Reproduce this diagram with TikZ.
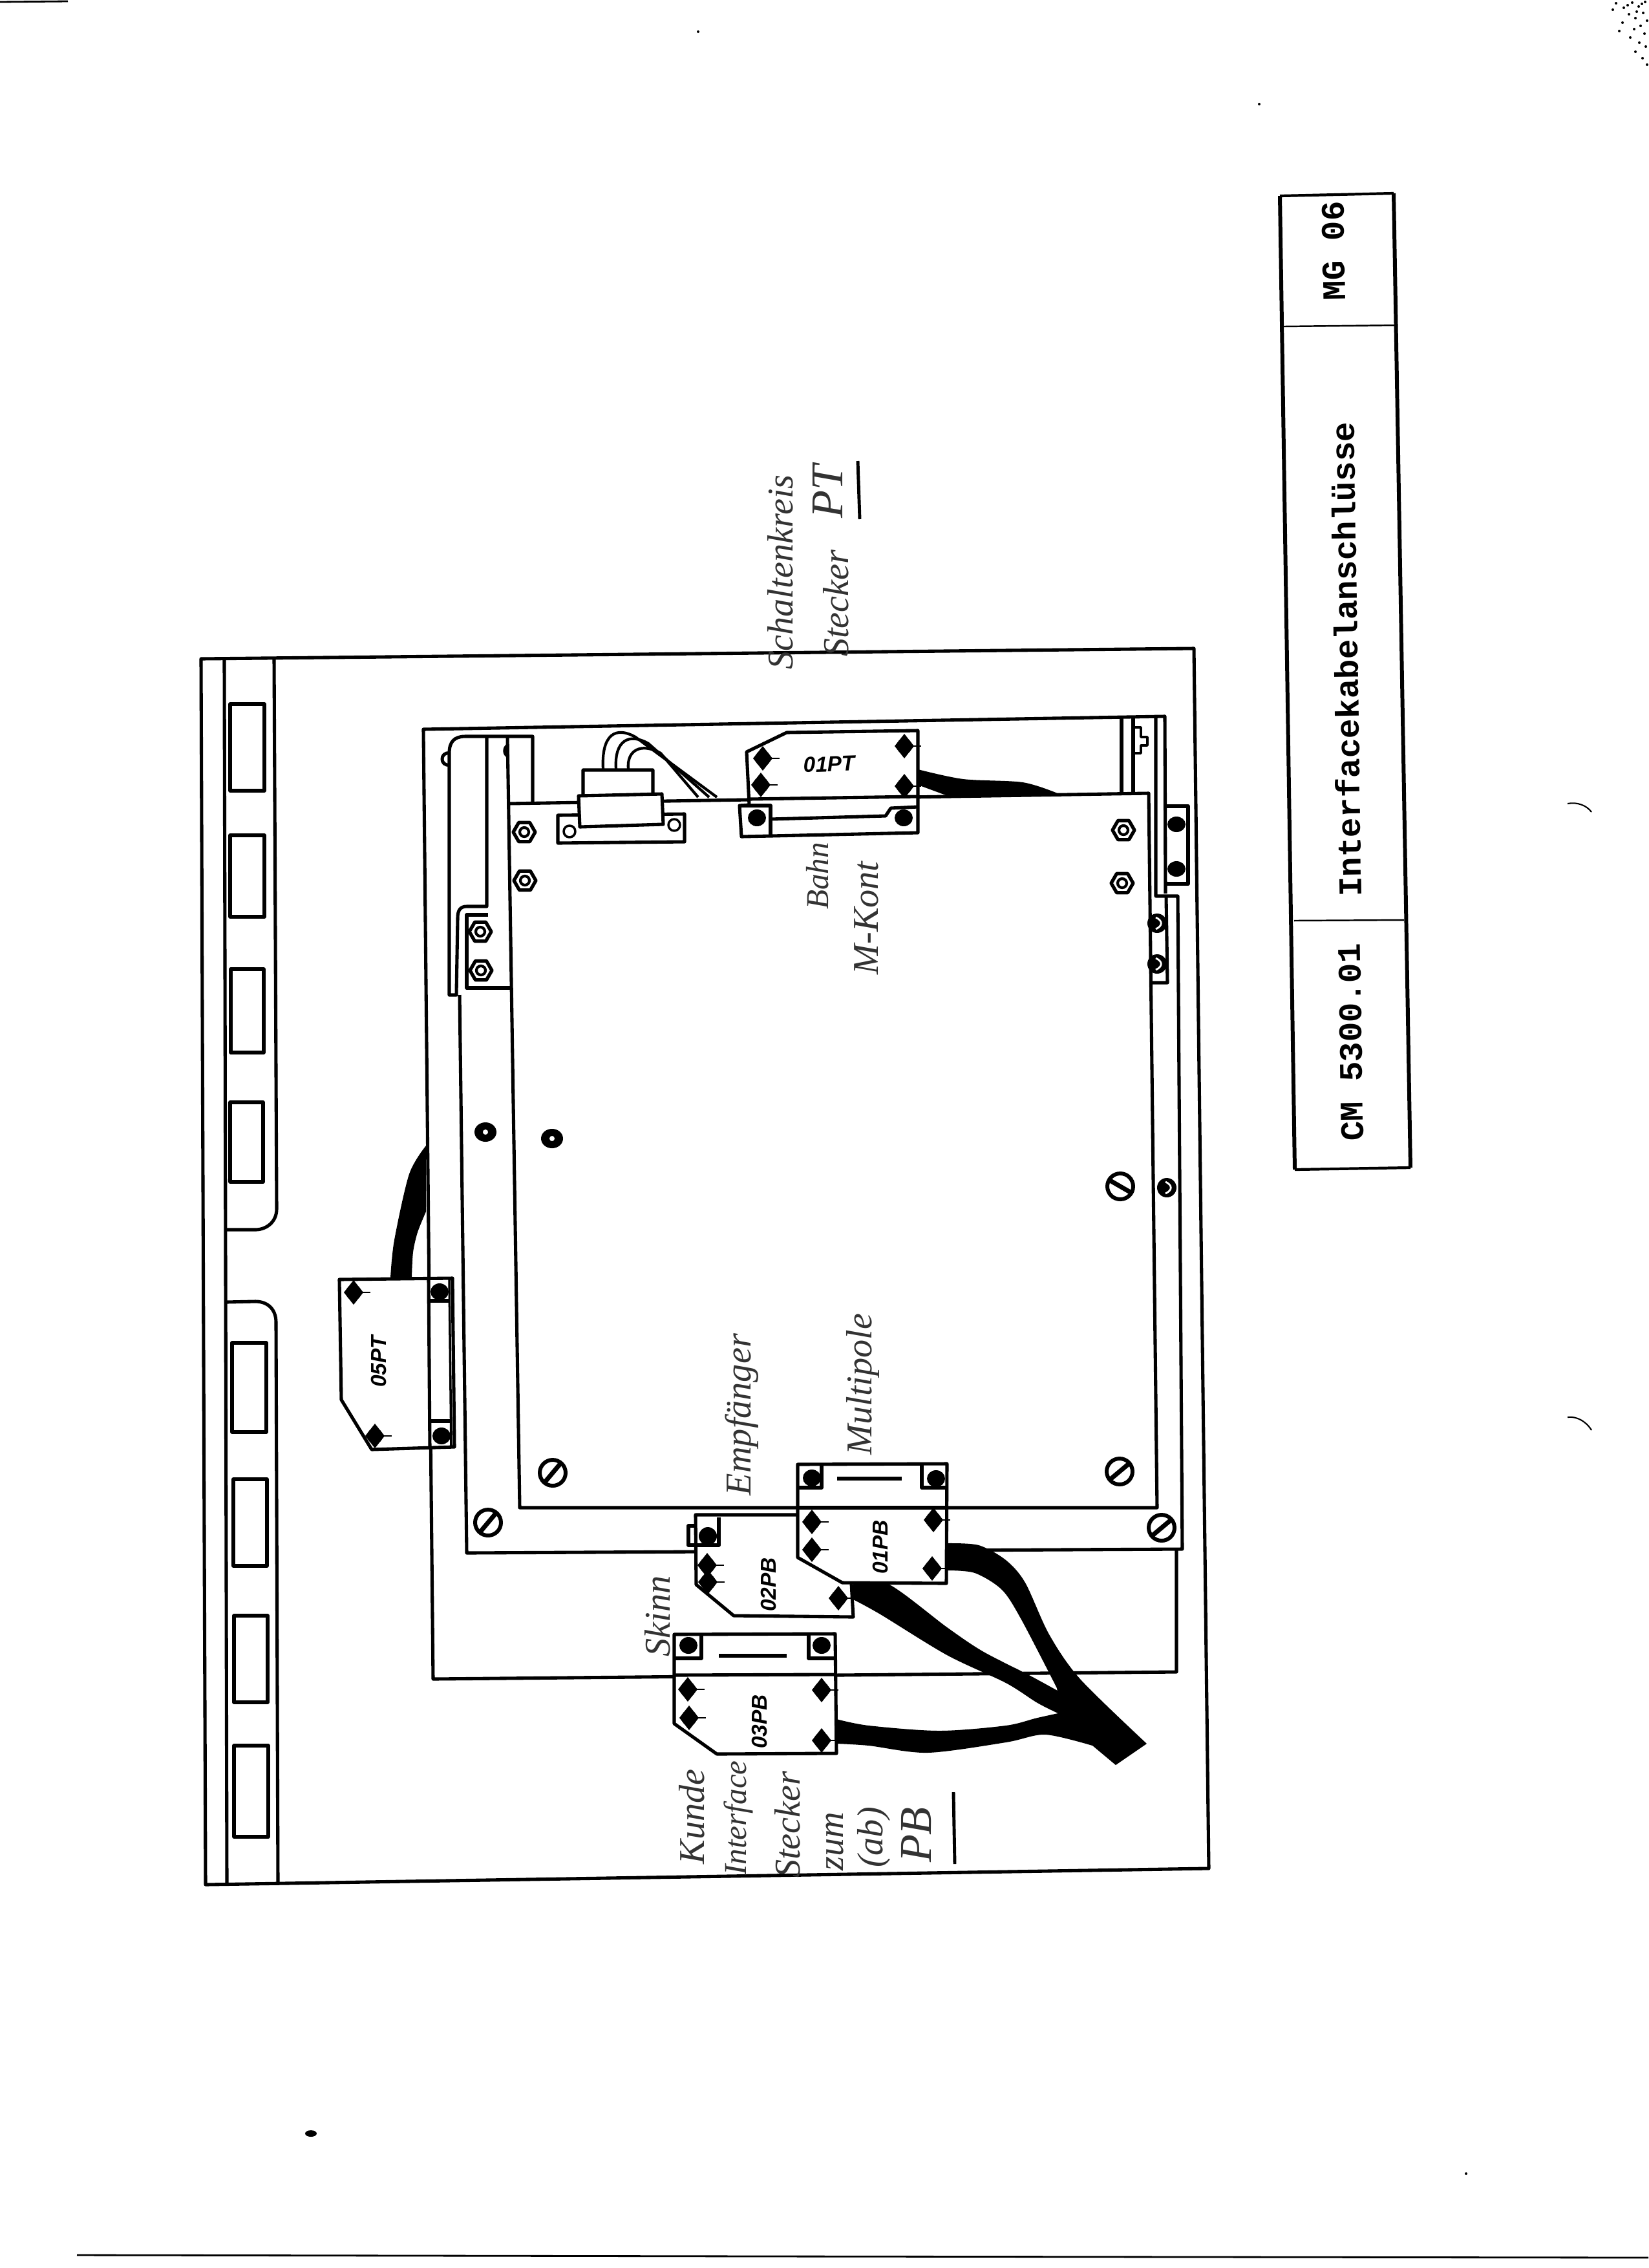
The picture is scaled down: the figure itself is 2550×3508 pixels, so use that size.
\documentclass[tikz,border=0pt]{standalone}
\usepackage{fontspec}
\setmainfont{Liberation Serif}
\setsansfont{Liberation Sans}
\setmonofont{Liberation Mono}

\tikzset{
  titletext/.style={font=\ttfamily\bfseries\fontsize{14.5}{17}\selectfont, rotate=90.9},
  tag/.style={font=\sffamily\bfseries\itshape\fontsize{9.5}{11}\selectfont, rotate=90},
  hand/.style={font=\itshape\fontsize{16}{19}\selectfont, rotate=90, text=black!80},
  handsmall/.style={font=\itshape\fontsize{14}{16}\selectfont, rotate=90, text=black!80},
  handbig/.style={font=\itshape\fontsize{20}{22}\selectfont, rotate=90, text=black!80},
  wire/.style={line width=1.2pt},
  fineline/.style={line width=0.6pt}
}

\newcommand{\bolt}[2]{
  \fill (#1,#2) +(-15,0) -- +(0,-19) -- +(15,0) -- +(0,19) -- cycle;
  \fill (#1,#2) circle (12);
  \draw[fineline] (#1,#2) -- +(26,0);
}
\newcommand{\blob}[2]{\fill (#1,#2) ellipse (14 and 13);}
\newcommand{\nut}[2]{
  \draw[line width=1.5pt] (#1,#2) +(0:17) -- +(60:17) -- +(120:17) -- +(180:17) -- +(240:17) -- +(300:17) -- cycle;
  \draw[line width=1.2pt] (#1,#2) circle (7);
}
\newcommand{\rivet}[2]{
  \fill (#1,#2) ellipse (17 and 15);
  \fill[white] (#1,#2) circle (4);
}
\newcommand{\slotscrew}[3]{
  \draw[line width=1.7pt] (#1,#2) circle (20);
  \draw[line width=2pt] (#1,#2) +(#3:19) -- +(#3+180:19);
}
\newcommand{\halfnut}[2]{
  \fill (#1,#2) circle (15);
  \draw[white,line width=0.8pt] (#1-2,#2-9) .. controls (#1+9,#2-4) and (#1+9,#2+4) .. (#1-2,#2+9);
}

\begin{document}
\begin{tikzpicture}[x=0.01cm,y=-0.01cm,line width=1.45pt,line join=round]

\useasboundingbox (0,0) rectangle (2550,3508);

% scan marks
\draw[line width=0.8pt] (0,3) -- (105,2);
\draw[line width=0.8pt] (119,3488) -- (1200,3490) -- (2550,3492);
\fill (481,3300) ellipse (9 and 5);
\draw[fineline] (2425,1243) .. controls (2440,1240) and (2455,1246) .. (2462,1256);
\draw[fineline] (2425,2192) .. controls (2440,2190) and (2455,2200) .. (2462,2212);
\foreach \px/\py in {2500/5,2512/12,2525/4,2535/10,2545/3,2520/22,2530/28,2542/20,2548/32,2538/40,
  2510/35,2528/45,2544/52,2522/58,2536/66,2546/72,2530/80,2541/90,2548/100,2495/15,2505/48,2518/8,2540/6,2532/18,
  1080/49,1948/161,2268/3362}
  {\fill (\px,\py) circle (2);}

% back plate and strip
\draw (311,1019) -- (1847,1003) -- (1870,2890) -- (318,2915) -- cycle;
\draw (347,1019) -- (351,2915);
\draw (424,1017) -- (428,1870) .. controls (428,1890) and (412,1902) .. (395,1902) -- (350,1902);
\draw (350,2014) -- (395,2013) .. controls (415,2013) and (427,2026) .. (427,2045) -- (430,2912);

\foreach \xa/\ya/\xb/\yb in {356/1089/409/1223, 356/1292/409/1418, 357/1499/408/1628, 356/1705/407/1828,
  359/2077/412/2215, 361/2288/413/2422, 362/2499/414/2633, 362/2700/415/2841}
  {\draw (\xa,\ya) rectangle (\xb,\yb);}

% panel frames
\draw (1820,2396) -- (1820,2586) -- (670,2597) -- (655,1128) -- (1802,1108) -- (1803,1382);
\draw (1788,1109) -- (1788,1386) -- (1822,1386) -- (1829,2396) -- (722,2402) -- (711,1539);
\draw (824,1242) -- (824,1139) -- (720,1139) .. controls (703,1139) and (695,1147) .. (695,1165) -- (695,1539) -- (706,1539)
  -- (708,1420) .. controls (708,1408) and (712,1402) .. (722,1402) -- (753,1402) -- (753,1139);
\draw (755,1415) -- (722,1415) -- (722,1528) -- (791,1528);
\draw (696,1165) .. controls (680,1162) and (680,1186) .. (696,1183);
\fill (785,1150) .. controls (776,1155) and (776,1168) .. (785,1172) -- cycle;

% board
\draw (785,1139) -- (804,2332) -- (1790,2332) -- (1777,1227) -- (785,1243);

\draw (1735,1109) -- (1735,1229);
\draw (1753,1109) -- (1753,1229);
\draw[line width=1pt] (1753,1125) -- (1765,1125) -- (1765,1140) -- (1775,1140) -- (1775,1153) -- (1765,1153) -- (1765,1165) -- (1753,1165);
\draw (1804,1247) -- (1838,1247) -- (1838,1367) -- (1804,1367);
\fill (1820,1275) ellipse (14 and 12);
\fill (1820,1344) ellipse (14 and 12);
\draw (1804,1386) -- (1806,1520) -- (1780,1520);

\nut{811}{1287}
\nut{812}{1362}
\nut{743}{1441}
\nut{744}{1501}
\nut{1738}{1284}
\nut{1736}{1366}
\halfnut{1790}{1428}
\halfnut{1790}{1491}
\halfnut{1805}{1837}
\rivet{751}{1751}
\rivet{854}{1761}
\slotscrew{755}{2355}{-50}
\slotscrew{855}{2278}{-50}
\slotscrew{1732}{2276}{-40}
\slotscrew{1797}{2363}{-40}
\slotscrew{1733}{1835}{30}

% d-sub with its wires
\foreach \xs/\ys/\xe in {933/1135/1109, 953/1145/1097, 972/1160/1080}
  {\draw[wire] (\xs,1190) .. controls (\xs-3,\ys) and (\xs+20,\ys-12) .. (\xs+50,\ys+5) -- (\xe,1233);}
\draw[fill=white] (863,1261) -- (1059,1259) -- (1059,1302) -- (863,1304) -- cycle;
\draw[line width=1pt] (881,1286) circle (9);
\draw[line width=1pt] (1043,1276) circle (9);
\draw[fill=white] (902,1191) -- (1010,1191) -- (1010,1230) -- (902,1232) -- cycle;
\draw[fill=white] (895,1231) -- (1024,1228) -- (1026,1275) -- (897,1279) -- cycle;

% cables
\fill plot[smooth] coordinates {(604,1976) (610,1918) (633,1816) (659,1772)}
  -- plot[smooth] coordinates {(659,1874) (646,1906) (639,1937) (637,1976)} -- cycle;
\fill plot[smooth] coordinates {(1420,1190) (1490,1205) (1582,1210) (1636,1227)}
  -- plot[smooth] coordinates {(1466,1231) (1420,1214)} -- cycle;
\fill plot[smooth] coordinates {(1320,2450) (1374,2450) (1465,2517) (1520,2554) (1592,2591) (1645,2620)}
  -- plot[smooth] coordinates {(1641,2652) (1605,2634) (1556,2603) (1465,2560) (1362,2497) (1320,2474)} -- cycle;
\fill plot[smooth] coordinates {(1465,2387) (1514,2390) (1556,2413) (1586,2448) (1623,2528) (1671,2597) (1774,2697)}
  -- (1726,2730) -- (1677,2689) -- (1641,2652)
  -- plot[smooth] coordinates {(1635,2611) (1580,2505) (1550,2459) (1508,2433) (1465,2429)} -- cycle;
\fill plot[smooth] coordinates {(1294,2659) (1344,2669) (1453,2677) (1556,2669) (1605,2657) (1660,2645)}
  -- plot[smooth] coordinates {(1690,2700) (1617,2683) (1556,2695) (1435,2711) (1344,2700) (1294,2697)} -- cycle;

% 05PT
\draw[fill=white] (525,1979) -- (700,1977) -- (703,2238) -- (575,2242) -- (528,2165) -- cycle;
\draw (663,1978) -- (665,2240);
\draw[line width=1pt] (695,1979) -- (698,2236);
\draw (665,2012) -- (695,2012);
\draw (667,2198) -- (698,2198);
\blob{680}{1998}
\blob{683}{2221}
\bolt{547}{1999}
\bolt{580}{2221}
\node[tag] (lblfivept) at (586,2106) {05PT};

% 01PT
\draw[fill=white] (1155,1163) -- (1217,1133) -- (1420,1130) -- (1420,1288) -- (1147,1294) -- (1144,1246) -- (1159,1245) -- cycle;
\draw (1159,1236) -- (1420,1232);
\draw (1146,1246) -- (1192,1246) -- (1192,1293);
\draw (1192,1267) -- (1370,1262) -- (1378,1250) -- (1420,1248);
\blob{1171}{1265}
\blob{1398}{1265}
\bolt{1180}{1173}
\bolt{1177}{1214}
\bolt{1399}{1154}
\bolt{1399}{1216}
\node[tag,rotate=-88] (lblonept) at (1283,1182) {01PT};

% 02PB
\draw[fill=white] (1076,2343) -- (1234,2343) -- (1317,2448) -- (1320,2501) -- (1135,2499) -- (1077,2451) -- cycle;
\draw (1112,2347) -- (1112,2390) -- (1065,2390) -- (1065,2360) -- (1076,2360);
\fill (1095,2376) circle (14);
\bolt{1094}{2421}
\bolt{1095}{2447}
\bolt{1297}{2472}
\node[tag] (lbltwopb) at (1189,2451) {02PB};

% 01PB
\draw[fill=white] (1234,2265) -- (1465,2264) -- (1464,2449) -- (1303,2448) -- (1234,2409) -- cycle;
\draw (1234,2332) -- (1465,2332);
\draw (1234,2301) -- (1271,2301) -- (1271,2265);
\draw (1465,2301) -- (1426,2301) -- (1426,2265);
\draw[line width=1.8pt] (1295,2287) -- (1395,2287);
\blob{1256}{2286}
\blob{1448}{2287}
\bolt{1256}{2354}
\bolt{1256}{2397}
\bolt{1444}{2351}
\bolt{1442}{2426}
\node[tag] (lblonepb) at (1362,2393) {01PB};

% 03PB
\draw[fill=white] (1043,2528) -- (1292,2527) -- (1294,2712) -- (1109,2713) -- (1043,2666) -- cycle;
\draw (1043,2591) -- (1294,2590);
\draw (1043,2565) -- (1085,2565) -- (1085,2528);
\draw (1292,2565) -- (1251,2565) -- (1251,2528);
\draw[line width=1.8pt] (1112,2561) -- (1217,2561);
\blob{1065}{2545}
\blob{1271}{2545}
\bolt{1064}{2613}
\bolt{1066}{2657}
\bolt{1271}{2614}
\bolt{1271}{2692}
\node[tag] (lblthreepb) at (1175,2663) {03PB};

% handwriting
\node[hand] (notea) at (1207,885) {Schaltenkreis};
\node[hand] (noteb) at (1293,933) {Stecker};
\node[handbig] (notec) at (1280,760) {PT};
\draw[line width=1.4pt] (1327,713) -- (1330,803);
\node[handsmall] (noted) at (1265,1355) {Bahn};
\node[hand] (notee) at (1340,1420) {M-Kont};
\node[hand] (notef) at (1148,2188) {Empfänger};
\node[hand] (noteg) at (1335,2141) {Multipole};
\node[hand] (noteh) at (1017,2500) {Skinn};
\node[hand] (notei) at (1070,2810) {Kunde};
\node[handsmall] (notej) at (1142,2812) {Interface};
\node[hand] (notek) at (1218,2822) {Stecker};
\node[hand] (notel) at (1292,2848) {zum};
\node[hand] (notem) at (1352,2842) {(ab)};
\node[handbig] (noten) at (1418,2838) {PB};
\draw[line width=1.4pt] (1475,2772) -- (1477,2883);

% title block
\draw[line width=1.2pt] (1980,303) -- (2156,299);
\draw[line width=1.2pt] (2003,1809) -- (2182,1806);
\draw[line width=1.7pt] (1980,303) -- (2003,1809);
\draw[line width=1.7pt] (2156,299) -- (2182,1806);
\draw[line width=0.7pt] (1986,505) -- (2160,503);
\draw[line width=0.7pt] (2002,1424) -- (2172,1423);
\node[titletext] (mgtext) at (2063,388) {MG 06};
\node[titletext] (ifacetext) at (2082,1020) {Interfacekabelanschlüsse};
\node[titletext] (cmtext) at (2090,1612) {CM 5300.01};

\end{tikzpicture}
\end{document}
